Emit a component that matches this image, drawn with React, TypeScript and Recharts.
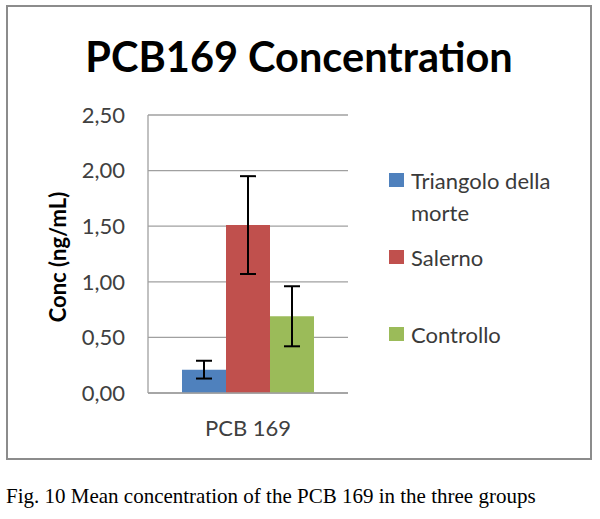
import React from "react";
import { BarChart, Bar, XAxis, YAxis, CartesianGrid, ErrorBar } from "recharts";

const categories = ["PCB 169"];
const seriesNames = ["Triangolo della morte", "Salerno", "Controllo"];
const seriesColors = ["#4F81BD", "#C0504D", "#9BBB59"];
const triangoloValues = [0.21];
const salernoValues = [1.51];
const controlloValues = [0.69];
const triangoloErrors = [0.08];
const salernoErrors = [0.44];
const controlloErrors = [0.27];
const yTicks = [0, 0.5, 1, 1.5, 2, 2.5];
const titleText = "PCB169 Concentration";
const yLabelText = "Conc (ng/mL)";
const captionText = "Fig. 10 Mean concentration of the PCB 169 in the three groups";

const seriesValues = [triangoloValues, salernoValues, controlloValues];
const seriesErrors = [triangoloErrors, salernoErrors, controlloErrors];

const data = categories.map((cat, i) => {
  const row: any = { name: cat };
  seriesValues.forEach((vals, s) => {
    row["s" + s] = vals[i];
    row["e" + s] = seriesErrors[s][i];
  });
  return row;
});

const FONT = "Lato, 'Open Sans', sans-serif";

const fmt = (v: number) => v.toFixed(2).replace(".", ",");

const YLabel = (props: any) => {
  const vb = props.viewBox || { x: 0, y: 0, width: 0, height: 0 };
  const cx = vb.x + vb.width - 91;
  const cy = vb.y + vb.height / 2 + 3;
  return (
    <text
      x={cx}
      y={cy}
      transform={`rotate(-90, ${cx}, ${cy})`}
      textAnchor="middle"
      dominantBaseline="central"
      fontFamily={FONT}
      fontWeight="bold"
      fontSize={22}
      fill="#000"
    >
      {yLabelText}
    </text>
  );
};

export default function App() {
  return (
    <div style={{ position: "absolute", left: 0, top: 0, width: 600, height: 519, background: "#fff", overflow: "hidden" }}>
      <div
        style={{
          position: "absolute",
          left: 6,
          top: 5,
          width: 582,
          height: 451,
          border: "2px solid #8c8c8c",
          boxSizing: "content-box",
        }}
      />
      <div
        style={{
          position: "absolute",
          left: 0,
          width: 598,
          top: 32,
          textAlign: "center",
          fontFamily: FONT,
          fontWeight: "bold",
          fontSize: 41.5,
          lineHeight: "48px",
          color: "#000",
        }}
      >
        {titleText}
      </div>
      <div style={{ position: "absolute", left: 0, top: 0 }}>
        <BarChart
          width={600}
          height={519}
          data={data}
          margin={{ top: 115, right: 252, bottom: 76, left: 68 }}
          barCategoryGap="17%"
          barGap={0}
        >
          <CartesianGrid vertical={false} stroke="#a0a0a0" strokeWidth={1.3} />
          <XAxis
            dataKey="name"
            height={50}
            tickSize={0}
            tickMargin={27}
            axisLine={{ stroke: "#a0a0a0", strokeWidth: 1.3 }}
            tick={{ fontFamily: FONT, fontSize: 22, fill: "#404040" }}
          />
          <YAxis
            width={80}
            domain={[0, 2.5]}
            ticks={yTicks}
            tickFormatter={fmt}
            tickSize={0}
            tickMargin={23}
            axisLine={{ stroke: "#a0a0a0", strokeWidth: 1.3 }}
            tick={{ fontFamily: FONT, fontSize: 22, fill: "#404040" }}
            label={<YLabel />}
          />
          {seriesNames.map((n, s) => (
            <Bar key={n} dataKey={"s" + s} name={n} fill={seriesColors[s]} isAnimationActive={false}>
              <ErrorBar dataKey={"e" + s} width={8} stroke="#000" strokeWidth={2} direction="y" />
            </Bar>
          ))}
        </BarChart>
      </div>
      {seriesNames.map((n, s) => (
        <div key={n} style={{ position: "absolute", left: 389, top: 165 + s * 77, width: 190 }}>
          <div style={{ position: "absolute", left: 0, top: 8, width: 15, height: 14, background: seriesColors[s] }} />
          <div
            style={{
              position: "absolute",
              left: 22,
              top: 0,
              width: 160,
              fontFamily: FONT,
              fontSize: 22,
              lineHeight: "32px",
              color: "#3a3a3a",
            }}
          >
            {n}
          </div>
        </div>
      ))}
      <div
        style={{
          position: "absolute",
          left: 6,
          top: 484,
          fontFamily: "'Liberation Serif', 'Times New Roman', serif",
          fontSize: 21,
          lineHeight: "24px",
          color: "#000",
          whiteSpace: "nowrap",
        }}
      >
        {captionText}
      </div>
    </div>
  );
}
